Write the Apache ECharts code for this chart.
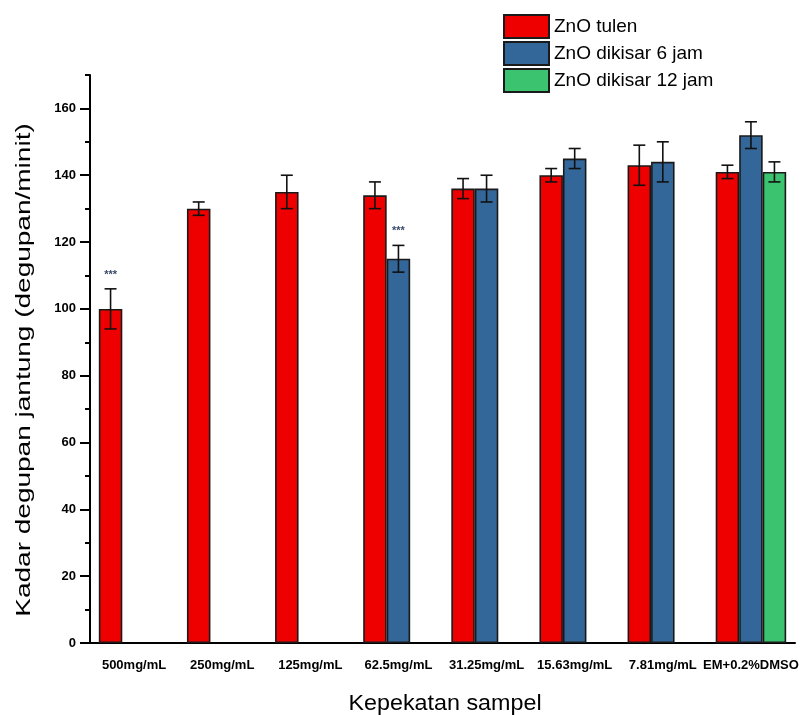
<!DOCTYPE html>
<html>
<head>
<meta charset="utf-8">
<script src="https://cdn.jsdelivr.net/npm/echarts@6/dist/echarts.min.js"></script>
<style>
html,body{margin:0;padding:0;background:#fff;}
#c{width:812px;height:715px;}
</style>
</head>
<body>
<div id="c"></div>
<script>
// ---- data ----
const categories = ['500mg/mL','250mg/mL','125mg/mL','62.5mg/mL','31.25mg/mL','15.63mg/mL','7.81mg/mL','EM+0.2%DMSO'];
const seriesNames = ['ZnO tulen','ZnO dikisar 6 jam','ZnO dikisar 12 jam'];
const tulenMean = [100,130,135,134,136,140,143,141];
const tulenErr  = [6,2,5,4,3,2,6,2];
const jam6Mean  = [null,null,null,115,136,145,144,152];
const jam6Err   = [null,null,null,4,4,3,6,4];
const jam12Mean = [null,null,null,null,null,null,null,141];
const jam12Err  = [null,null,null,null,null,null,null,3];
const sigMarks  = [[0,0,'***'],[3,1,'***']]; // [category index, series index, text]
const yTicks = [0,20,40,60,80,100,120,140,160];
const yMinorTicks = [10,30,50,70,90,110,130,150,170];

// ---- chart ----
const colors = ['#ee0000','#336699','#3cc370'];
const means = [tulenMean, jam6Mean, jam12Mean];
const errs = [tulenErr, jam6Err, jam12Err];
const BW = 23.5;

const chart = echarts.init(document.getElementById('c'), null, {renderer:'canvas'});

const barSeries = seriesNames.map((n,i)=>({
  name:n, type:'bar', data:means[i], barWidth:BW, barGap:'0%',
  xAxisIndex:0, yAxisIndex:0,
  itemStyle:{color:colors[i], borderColor:'#1a1a1a', borderWidth:1.6},
  emphasis:{disabled:true}, z:2
}));

const errSeries = seriesNames.map((n,i)=>({
  type:'custom', xAxisIndex:0, yAxisIndex:0, z:5,
  data: categories.map((c,k)=> means[i][k]==null ? null : [k, means[i][k], errs[i][k]]).filter(d=>d),
  renderItem:(params, api)=>{
    const k=api.value(0), m=api.value(1), e=api.value(2);
    const x = api.coord([k,m])[0] + (i-1)*BW;
    const yt = api.coord([k,m+e])[1], yb = api.coord([k,m-e])[1];
    const cw=6;
    const st={stroke:'#111', lineWidth:1.6};
    return {type:'group', children:[
      {type:'line', shape:{x1:x,y1:yt,x2:x,y2:yb}, style:st},
      {type:'line', shape:{x1:x-cw,y1:yt,x2:x+cw,y2:yt}, style:st},
      {type:'line', shape:{x1:x-cw,y1:yb,x2:x+cw,y2:yb}, style:st}
    ]};
  },
  silent:true
}));

const sigSeries = {
  type:'custom', xAxisIndex:0, yAxisIndex:0, z:6, silent:true,
  data: sigMarks.map(s=>[s[0], means[s[1]][s[0]] + errs[s[1]][s[0]], s[1], s[2]]),
  renderItem:(params, api)=>{
    const k=api.value(0), top=api.value(1), si=api.value(2);
    const p = api.coord([k, top]);
    return {type:'text', x:p[0]+(si-1)*BW, y:p[1]-14,
      style:{text:sigMarks[params.dataIndex][2], font:'bold 11px "Liberation Sans"', fill:'#3a4a6a', align:'center', verticalAlign:'middle'}};
  }
};

const option = {
  animation:false,
  color:colors,
  grid:{left:90, right:17, top:75, bottom:72, containLabel:false},
  legend:{
    data:seriesNames, orient:'vertical', left:503, top:14, padding:0,
    itemWidth:45, itemHeight:23, itemGap:2, icon:'rect',
    textStyle:{fontFamily:'Liberation Sans', fontSize:19, color:'#000'},
    selectedMode:false
  },
  xAxis:[
    {type:'category', data:categories, position:'bottom',
     axisLine:{lineStyle:{color:'#000', width:2}},
     axisTick:{alignWithLabel:true, length:11, lineStyle:{color:'#000', width:2}},
     axisLabel:{interval:0, margin:16, color:'#000', fontFamily:'Liberation Sans', fontWeight:'bold', fontSize:13},
     splitLine:{show:false}},
    {type:'category', data:categories, position:'bottom',
     axisLine:{show:false},
     axisTick:{length:5, lineStyle:{color:'#000', width:2}},
     axisLabel:{show:false}, splitLine:{show:false}}
  ],
  yAxis:[
    {type:'value', min:0, max:170, interval:20, position:'left',
     axisLine:{show:true, lineStyle:{color:'#000', width:2}},
     axisTick:{show:true, length:10, customValues:yTicks, lineStyle:{color:'#000', width:2}},
     axisLabel:{margin:14, customValues:yTicks, color:'#000', fontFamily:'Liberation Sans', fontWeight:'bold', fontSize:13},
     splitLine:{show:false}},
    {type:'value', min:0, max:170, interval:10, position:'left',
     axisLine:{show:false},
     axisTick:{show:true, length:5, customValues:yMinorTicks, lineStyle:{color:'#000', width:2}},
     axisLabel:{show:false}, splitLine:{show:false}}
  ],
  graphic:[
    {type:'text', x:24, y:370, rotation:Math.PI/2, scaleX:1.4, scaleY:1,
     style:{text:'Kadar degupan jantung (degupan/minit)', font:'20px "Liberation Sans"', fill:'#000', align:'center', verticalAlign:'middle'}},
    {type:'text', x:445, y:704, scaleX:1.06,
     style:{text:'Kepekatan sampel', font:'22px "Liberation Sans"', fill:'#000', align:'center', verticalAlign:'middle'}}
  ],
  series:[...barSeries, ...errSeries, sigSeries]
};
chart.setOption(option);
</script>
</body>
</html>
